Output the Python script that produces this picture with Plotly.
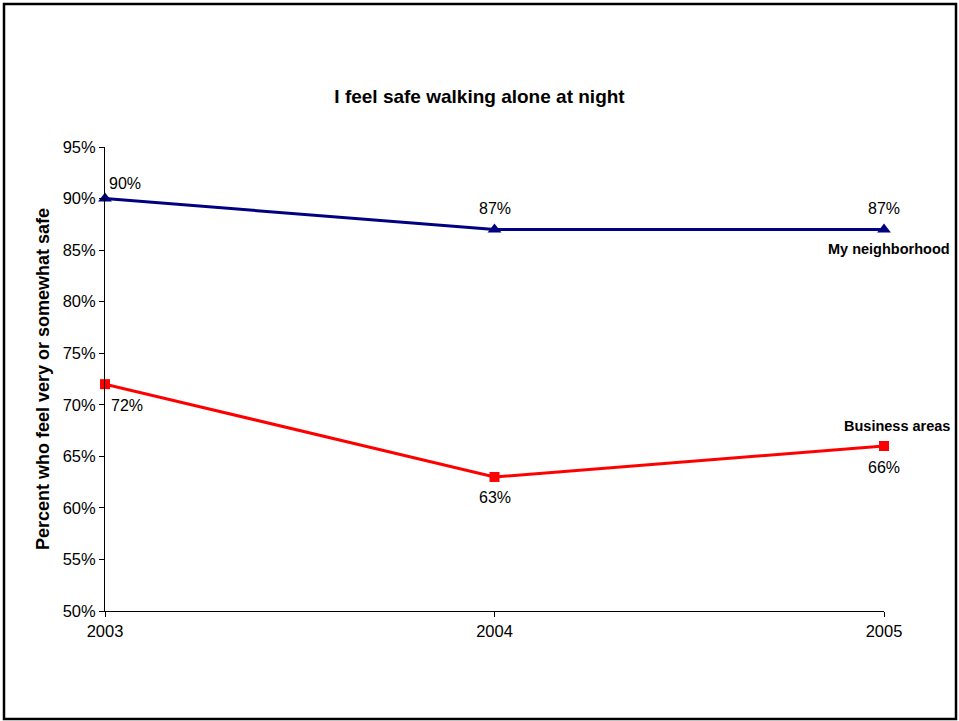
import plotly.graph_objects as go

years = [2003, 2004, 2005]
neighborhood = [90, 87, 87]
business = [72, 63, 66]
y_ticks = [50, 55, 60, 65, 70, 75, 80, 85, 90, 95]

FONT = "Liberation Sans, Arial, sans-serif"

fig = go.Figure()
fig.add_trace(go.Scatter(
    x=years, y=neighborhood, mode="lines+markers", name="My neighborhood",
    line=dict(color="#000080", width=3),
    marker=dict(symbol="triangle-up", size=12, color="#000080"),
    cliponaxis=False,
))
fig.add_trace(go.Scatter(
    x=years, y=business, mode="lines+markers", name="Business areas",
    line=dict(color="#FF0000", width=3),
    marker=dict(symbol="square", size=10, color="#FF0000"),
    cliponaxis=False,
))

annotations = []
n_shifts = [(20, 15), (0, 21), (0, 21)]
for x, y, (dx, dy) in zip(years, neighborhood, n_shifts):
    annotations.append(dict(x=x, y=y, xref="x", yref="y", text=f"{y}%",
                            showarrow=False, xshift=dx, yshift=dy,
                            font=dict(size=16, color="black", family=FONT)))
b_shifts = [(22, -21), (0, -21), (0, -21)]
for x, y, (dx, dy) in zip(years, business, b_shifts):
    annotations.append(dict(x=x, y=y, xref="x", yref="y", text=f"{y}%",
                            showarrow=False, xshift=dx, yshift=dy,
                            font=dict(size=16, color="black", family=FONT)))
annotations.append(dict(x=years[-1], y=neighborhood[-1], xref="x", yref="y",
                        text="<b>My neighborhood</b>", showarrow=False,
                        xshift=5, yshift=-20,
                        font=dict(size=14.5, color="black", family=FONT)))
annotations.append(dict(x=years[-1], y=business[-1], xref="x", yref="y",
                        text="<b>Business areas</b>", showarrow=False,
                        xshift=13, yshift=20,
                        font=dict(size=14.5, color="black", family=FONT)))

L, R, T, B = 105, 75, 147, 110
PW, PH = 959 - L - R, 721 - T - B

fig.update_layout(
    width=959, height=721,
    margin=dict(l=L, r=R, t=T, b=B),
    paper_bgcolor="white", plot_bgcolor="white",
    showlegend=False,
    font=dict(family=FONT, color="black", size=16),
    title=dict(text="<b>I feel safe walking alone at night</b>",
               x=0.5, xanchor="center", y=1 - 96 / 721, yanchor="middle",
               font=dict(size=19, family=FONT, color="black")),
    annotations=annotations,
    shapes=[dict(type="rect", xref="paper", yref="paper",
                 x0=(4 - L) / PW, x1=(956 - L) / PW,
                 y0=-(719 - (721 - B)) / PH, y1=1 + (T - 4) / PH,
                 line=dict(color="black", width=2.5))],
)
fig.update_xaxes(
    range=[2003, 2005], tickvals=years, ticktext=[str(y) for y in years],
    showgrid=False, zeroline=False, showline=True, linecolor="black", linewidth=1,
    ticks="outside", ticklen=5, tickcolor="black",
    tickfont=dict(size=16.5, family=FONT),
)
fig.update_yaxes(
    range=[50, 95], tickvals=y_ticks, ticktext=[f"{v}%" for v in y_ticks],
    showgrid=False, zeroline=False, showline=True, linecolor="black", linewidth=1,
    ticks="outside", ticklen=5, tickcolor="black",
    tickfont=dict(size=16.5, family=FONT),
    title=dict(text="<b>Percent who feel very or somewhat safe</b>",
               font=dict(size=18, family=FONT), standoff=8),
)

fig.write_html("out.html", config={"displayModeBar": False},
               post_script="document.body.style.margin='0';")
